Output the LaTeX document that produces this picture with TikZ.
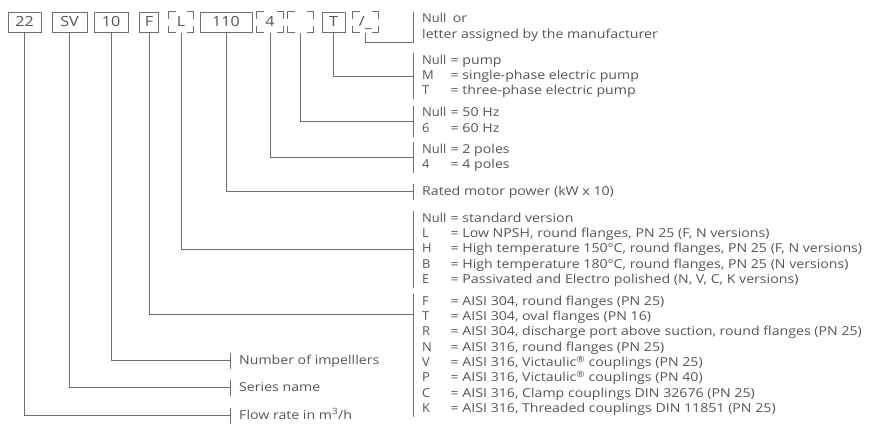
\documentclass[tikz,border=0pt]{standalone}
\usepackage{fontspec}
\setmainfont{Open Sans}[FakeStretch=1.15]
\newfontfamily\codefont{Open Sans}[FakeStretch=1.05]
\definecolor{ln}{HTML}{6E6E6E}
\definecolor{tx}{HTML}{555555}
\lineskiplimit=-100pt
\newcommand\lstrut{\rule[-4.3pt]{0pt}{15.3pt}}
\newcommand\coderow[2]{\hspace*{9pt}\makebox[28.5pt][l]{\codefont #1}#2\lstrut}
\newcommand\plainrow[1]{\hspace*{9pt}#1\lstrut}
\tikzset{
  bx/.style={draw=ln, line width=1pt, minimum height=20pt, inner sep=0pt, text=tx,
    font=\fontsize{14}{16}\selectfont, text height=10pt, text depth=0pt},
  bxd/.style={bx, draw=none},
  grp/.style={anchor=north west, inner sep=0pt, align=left, text=tx,
    font=\fontsize{12.3}{15.3}\selectfont},
  conn/.style={draw=ln, line width=1pt},
}
\begin{document}
\begin{tikzpicture}[x=1pt, y=-1pt]
\useasboundingbox (0,0) rectangle (878,423);
% code boxes
\node[bx,  minimum width=33pt] (b22) at (24.5,22) {22};
\node[bx,  minimum width=35pt] (bSV) at (69.5,22) {SV};
\node[bx,  minimum width=34pt] (b10) at (111,22) {10};
\node[bx,  minimum width=18.5pt] (bF) at (149,22) {F};
\node[bxd, minimum width=24pt] (bL) at (181,22) {L};
\node[bx,  minimum width=52pt] (b110) at (226,22) {110};
\node[bxd, minimum width=26pt] (b4) at (270,22) {4};
\node[bxd, minimum width=25pt] (bHz) at (300.5,22) {};
\node[bx,  minimum width=23pt] (bT) at (333.5,22) {T};
\node[bxd, minimum width=25pt] (bS) at (365.5,22) {/\raisebox{-1pt}{\_}};
\foreach \n in {bL,b4,bHz,bS}{
  \draw[conn] ([yshift=-7pt]\n.north west) |- ([xshift=7pt]\n.north west);
  \draw[conn] ([xshift=-7pt]\n.north east) -| ([yshift=-7pt]\n.north east);
  \draw[conn] ([yshift=7pt]\n.south west) |- ([xshift=7pt]\n.south west);
  \draw[conn] ([xshift=-7pt]\n.south east) -| ([yshift=7pt]\n.south east);
}
% description groups
\node[grp] (gA) at (413,11.5) {\coderow{Null}{\,or}\\\plainrow{letter assigned by the manufacturer}};
\node[grp] (gB) at (413,53) {\coderow{Null}{= pump}\\\coderow{M}{= single-phase electric pump}\\\coderow{T}{= three-phase electric pump}};
\node[grp] (gC) at (413,105.7) {\coderow{Null}{= 50 Hz}\\\coderow{6}{= 60 Hz}};
\node[grp] (gD) at (413,142) {\coderow{Null}{= 2 poles}\\\coderow{4}{= 4 poles}};
\node[grp] (gE) at (413,184) {\plainrow{Rated motor power (kW x 10)}};
\node[grp] (gF) at (413,211) {\coderow{Null}{= standard version}\\
  \coderow{L}{= Low NPSH, round flanges, PN 25 (F, N versions)}\\
  \coderow{H}{= High temperature 150°C, round flanges, PN 25 (F, N versions)}\\
  \coderow{B}{= High temperature 180°C, round flanges, PN 25 (N versions)}\\
  \coderow{E}{= Passivated and Electro polished (N, V, C, K versions)}};
\node[grp] (gG) at (413,294) {\coderow{F}{= AISI 304, round flanges (PN 25)}\\
  \coderow{T}{= AISI 304, oval flanges (PN 16)}\\
  \coderow{R}{= AISI 304, discharge port above suction, round flanges (PN 25)}\\
  \coderow{N}{= AISI 316, round flanges (PN 25)}\\
  \coderow{V}{= AISI 316, Victaulic\textsuperscript{®} couplings (PN 25)}\\
  \coderow{P}{= AISI 316, Victaulic\textsuperscript{®} couplings (PN 40)}\\
  \coderow{C}{= AISI 316, Clamp couplings DIN 32676 (PN 25)}\\
  \coderow{K}{= AISI 316, Threaded couplings DIN 11851 (PN 25)}};
\node[grp] (n10) at (230,353) {\plainrow{Number of impelllers}};
\node[grp] (nSV) at (230,380) {\plainrow{Series name}};
\node[grp] (n22) at (230,408) {\plainrow{Flow rate in m\textsuperscript{3}/h}};
% brackets
\foreach \g in {gA,gB,gC,gD,gE,gF,gG,n10,nSV,n22}{
  \draw[conn] (\g.north west) -- (\g.south west);
}
% connectors
\draw[conn] (bS.south) |- (gA.south west);
\draw[conn] (bT.south) |- (gB.west);
\draw[conn] (bHz.south) |- (gC.west);
\draw[conn] (b4.south) |- (gD.west);
\draw[conn] (b110.south) |- (gE.west);
\draw[conn] (bL.south) |- (gF.west);
\draw[conn] (bF.south) |- ([yshift=-20pt]gG.north west);
\draw[conn] (b10.south) |- (n10.west);
\draw[conn] (bSV.south) |- (nSV.west);
\draw[conn] (b22.south) |- (n22.west);
\end{tikzpicture}
\end{document}
